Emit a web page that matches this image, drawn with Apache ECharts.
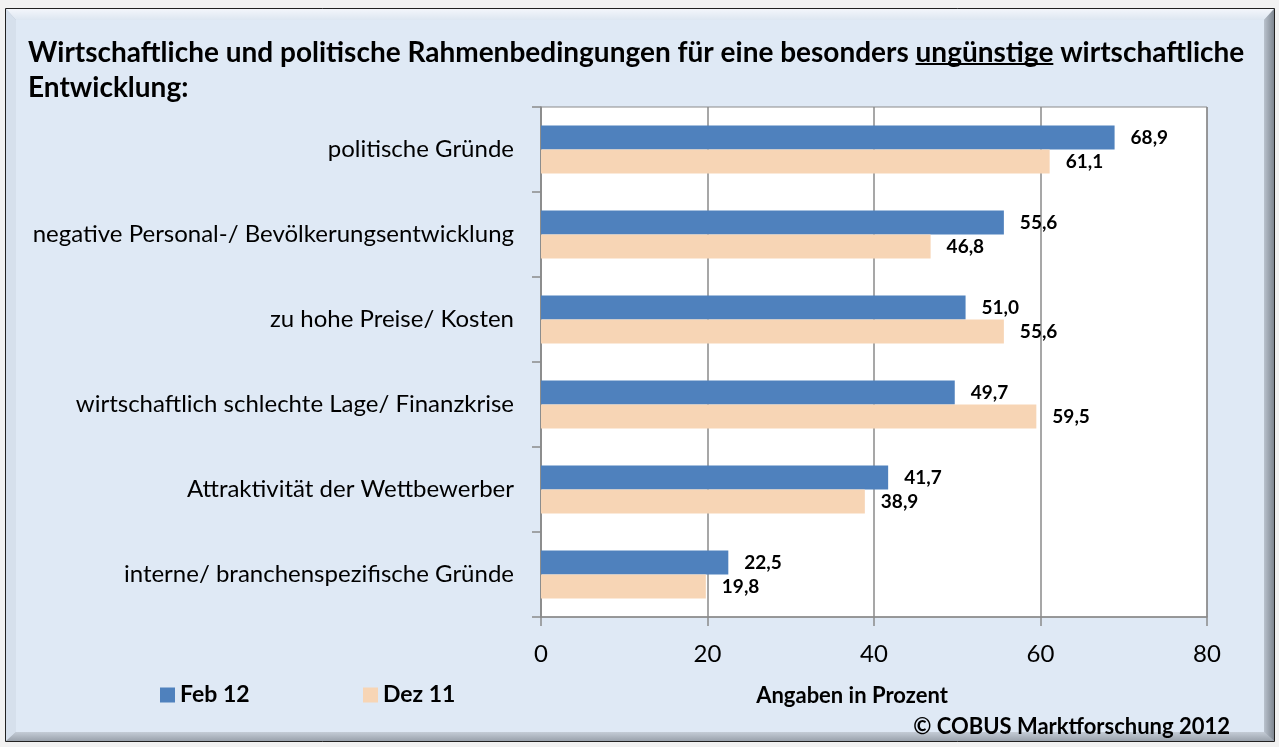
<!DOCTYPE html>
<html>
<head>
<meta charset="utf-8">
<script src="https://cdn.jsdelivr.net/npm/echarts@6/dist/echarts.min.js"></script>
<style>
html,body{margin:0;padding:0;background:#f2f2f2;}
#chart{width:1279px;height:747px;}
</style>
</head>
<body>
<div id="chart"></div>
<script>
const categories = [
  'politische Gründe',
  'negative Personal-/ Bevölkerungsentwicklung',
  'zu hohe Preise/ Kosten',
  'wirtschaftlich schlechte Lage/ Finanzkrise',
  'Attraktivität der Wettbewerber',
  'interne/ branchenspezifische Gründe'
];
const feb12 = [68.9, 55.6, 51.0, 49.7, 41.7, 22.5];
const dez11 = [61.1, 46.8, 55.6, 59.5, 38.9, 19.8];
const seriesNames = ['Feb 12', 'Dez 11'];
const xTicks = [0, 20, 40, 60, 80];
const titleBefore = 'Wirtschaftliche und politische Rahmenbedingungen für eine besonders ';
const titleUnder = 'ungünstige';
const titleAfter = ' wirtschaftliche';
const titleLine2 = 'Entwicklung:';

const FONT = 'Lato';
const TITLE_SIZE = 28;
const chart = echarts.init(document.getElementById('chart'), null, {renderer: 'canvas'});
const fmt = p => p.value.toFixed(1).replace('.', ',');

// measure text for the underline decoration
const mctx = document.createElement('canvas').getContext('2d');
mctx.font = 'bold ' + TITLE_SIZE + 'px ' + FONT;
const ulX1 = 28 + mctx.measureText(titleBefore).width;
const ulX2 = ulX1 + mctx.measureText(titleUnder).width;

const option = {
  backgroundColor: '#f2f2f2',
  animation: false,
  textStyle: {fontFamily: FONT},
  graphic: [
    {type: 'rect', z: -10, shape: {x: 5.5, y: 8.5, width: 1269, height: 733}, style: {fill: '#b8c1cc', stroke: '#222', lineWidth: 1}},
    {type: 'polygon', z: -9, shape: {points: [[6,9],[1274,9],[1264,20],[16,20]]}, style: {fill: new echarts.graphic.LinearGradient(0,0,0,1,[{offset:0,color:'#f3f6fb'},{offset:1,color:'#dde6f1'}])}},
    {type: 'polygon', z: -9, shape: {points: [[6,9],[16,20],[16,732],[6,741]]}, style: {fill: '#d6e0ec'}},
    {type: 'polygon', z: -9, shape: {points: [[1274,9],[1264,20],[1264,732],[1274,741]]}, style: {fill: new echarts.graphic.LinearGradient(0,0,1,0,[{offset:0,color:'#b9c2cd'},{offset:1,color:'#7f8791'}])}},
    {type: 'polygon', z: -9, shape: {points: [[6,741],[16,732],[1264,732],[1274,741]]}, style: {fill: new echarts.graphic.LinearGradient(0,0,0,1,[{offset:0,color:'#c4ccd6'},{offset:1,color:'#9aa2ac'}])}},
    {type: 'rect', z: -8, shape: {x: 16, y: 20, width: 1248, height: 712}, style: {fill: '#dfe9f5'}},
    {type: 'line', z: 10, shape: {x1: ulX1, y1: 64, x2: ulX2, y2: 64}, style: {stroke: '#000', lineWidth: 2}},
    {type: 'text', z: 10, style: {x: 852, y: 696, text: 'Angaben in Prozent', align: 'center', verticalAlign: 'middle',
      fontFamily: FONT, fontWeight: 'bold', fontSize: 22, fill: '#000'}},
    {type: 'text', z: 10, style: {x: 1230, y: 727, text: '© COBUS Marktforschung 2012', align: 'right', verticalAlign: 'middle',
      fontFamily: FONT, fontWeight: 'bold', fontSize: 22, fill: '#000'}}
  ],
  title: {
    text: titleBefore + titleUnder + titleAfter + '\n' + titleLine2,
    left: 28, top: 35, padding: 0,
    textStyle: {fontFamily: FONT, fontWeight: 'bold', fontSize: TITLE_SIZE, color: '#000', lineHeight: 35}
  },
  legend: [
    {data: [seriesNames[0]], left: 160, top: 683, padding: 0, itemWidth: 15, itemHeight: 15, itemGap: 0,
     icon: 'rect', textStyle: {fontFamily: FONT, fontWeight: 'bold', fontSize: 23, color: '#000', lineHeight: 24}},
    {data: [seriesNames[1]], left: 363, top: 683, padding: 0, itemWidth: 15, itemHeight: 15, itemGap: 0,
     icon: 'rect', textStyle: {fontFamily: FONT, fontWeight: 'bold', fontSize: 23, color: '#000', lineHeight: 24}}
  ],
  grid: {
    left: 541, right: 72, top: 107, bottom: 130,
    show: true, backgroundColor: '#ffffff', borderColor: '#8a8a8a', borderWidth: 1
  },
  xAxis: {
    type: 'value', min: xTicks[0], max: xTicks[xTicks.length - 1], interval: 20,
    axisLine: {show: true, lineStyle: {color: '#8a8a8a', width: 1.5}},
    axisTick: {show: true, length: 9, lineStyle: {color: '#8a8a8a', width: 1.5}},
    splitLine: {show: true, lineStyle: {color: '#8a8a8a', width: 1.5}},
    axisLabel: {fontFamily: FONT, fontSize: 24, color: '#000', margin: 25}
  },
  yAxis: {
    type: 'category', data: categories, inverse: true,
    axisLine: {show: true, lineStyle: {color: '#8a8a8a', width: 1.5}},
    axisTick: {show: true, length: 9, lineStyle: {color: '#8a8a8a', width: 1.5}},
    splitLine: {show: false},
    axisLabel: {fontFamily: FONT, fontSize: 24, color: '#000', margin: 27}
  },
  series: [
    {
      name: seriesNames[0], type: 'bar', data: feb12, barWidth: 24, barGap: '0%',
      itemStyle: {color: '#4f81bd'},
      label: {show: true, position: 'right', distance: 16, formatter: fmt,
              fontFamily: FONT, fontWeight: 'bold', fontSize: 19, color: '#000'}
    },
    {
      name: seriesNames[1], type: 'bar', data: dez11, barWidth: 24, barGap: '0%',
      itemStyle: {color: '#f7d5b5'},
      label: {show: true, position: 'right', distance: 16, formatter: fmt,
              fontFamily: FONT, fontWeight: 'bold', fontSize: 19, color: '#000'}
    }
  ]
};
chart.setOption(option);
</script>
</body>
</html>
